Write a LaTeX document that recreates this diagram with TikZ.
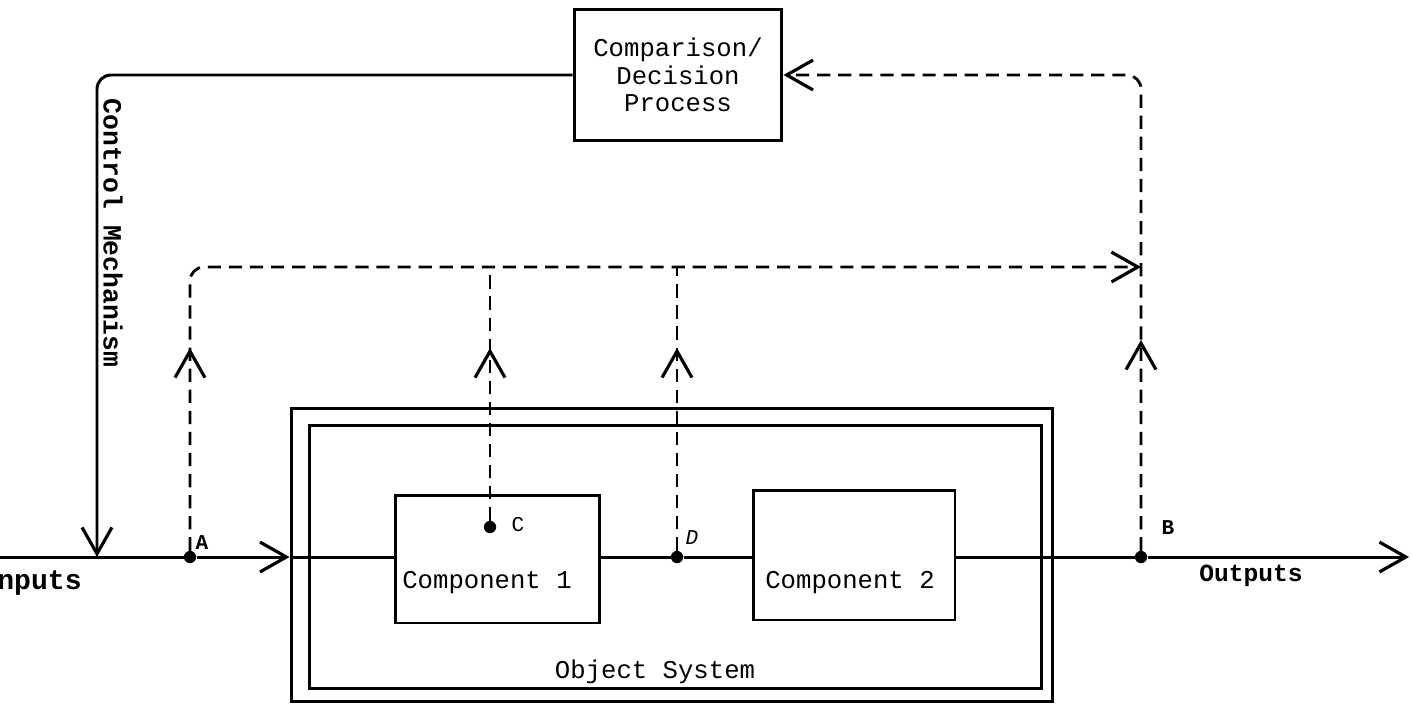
\documentclass[tikz,border=0pt]{standalone}
\usepackage{fontspec}
\setmonofont{Liberation Mono}
\usetikzlibrary{arrows.meta}

\tikzset{
  box/.style={draw, line width=1.7pt, inner sep=0pt},
  wire/.style={line width=1.7pt},
  feedback/.style={line width=1.6pt, dash pattern=on 7.5pt off 4.5pt},
  openhead/.style={-{Straight Barb[length=15pt,width=17pt,line width=1.8pt]}},
  dot/.style={circle, fill, inner sep=0pt, minimum size=7pt},
  txt/.style={font=\ttfamily\fontsize{14.6}{15.5}\selectfont, inner sep=0pt},
  pin/.style={font=\ttfamily\bfseries\fontsize{12}{13}\selectfont, inner sep=0pt}
}

\begin{document}
\begin{tikzpicture}[x=0.02cm, y=-0.02cm]
\useasboundingbox (0,0) rectangle (1412,707);
% boxes
\node[box, txt, align=center, minimum width=4.16cm, minimum height=2.64cm] (cmp) at (678,75) {Comparison/\\Decision\\Process};
\node[box, minimum width=15.24cm, minimum height=5.88cm] (sysout) at (672,555) {};
\node[box, minimum width=14.66cm, minimum height=5.28cm] (sysin) at (675.5,557) {};
\node[box, minimum width=4.1cm, minimum height=2.56cm] (comp1) at (497.5,559) {};
\node[box, minimum width=4.04cm, minimum height=2.6cm] (comp2) at (854,555) {};
\node[txt] (lbl1) at (487,583) {Component 1};
\node[txt] (lbl2) at (850,583) {Component 2};
\node[txt] (lblsys) at (655,672) {Object System};
\node[txt, font=\ttfamily\bfseries\fontsize{15}{16}\selectfont, rotate=-90] (lblctl) at (113,233) {Control Mechanism};
\node[txt, font=\ttfamily\bfseries\fontsize{16}{17}\selectfont, anchor=east] (lblin) at (82,583) {Inputs};
\node[txt, font=\ttfamily\bfseries\fontsize{14}{15}\selectfont] (lblout) at (1251,576) {Outputs};
% measuring points
\node[dot] (A) at (190,557) {};
\node[dot] (C) at (490,527) {};
\node[dot] (D) at (677,557) {};
\node[dot] (B) at (1141,557) {};
\node[pin] (lblA) at (202,543) {A};
\node[pin, font=\ttfamily\fontsize{12}{13}\selectfont] (lblC) at (518,525) {C};
\node[pin, font=\ttfamily\itshape\fontsize{12}{13}\selectfont] (lblD) at (692,538) {D};
\node[pin] (lblB) at (1168,528) {B};
\coordinate (in) at (0,557);
\coordinate (ctl) at (97,557);
\coordinate (out) at (1409,557);
\coordinate (top) at (0,267);
\coordinate (mid) at (0,348);
% signal path
\draw[wire] (in) -- (A);
\draw[wire, openhead] (A) -- (A -| sysout.west);
\draw[wire] (A -| sysout.west) -- (A -| comp1.west);
\draw[wire] (comp1.east |- D) -- (D) -- (D -| comp2.west);
\draw[wire] (comp2.east |- B) -- (B);
\draw[wire, openhead] (B) -- (out);
\draw[wire, openhead, rounded corners=8] (cmp.west) -| (ctl);
% feedback
\draw[feedback, openhead, rounded corners=8] (A) -- (A |- top) -- (B |- top);
\draw[feedback] (C) -- (C |- top);
\draw[feedback] (D) -- (D |- top);
\draw[feedback, openhead, rounded corners=8] (B) -- (B |- cmp.east) -- (cmp.east);
\draw[feedback, openhead] (A) -- (A |- mid);
\draw[feedback, openhead] (C) -- (C |- mid);
\draw[feedback, openhead] (D) -- (D |- mid);
\draw[feedback, openhead] (B) -- (B |- 0,340);
\end{tikzpicture}
\end{document}
